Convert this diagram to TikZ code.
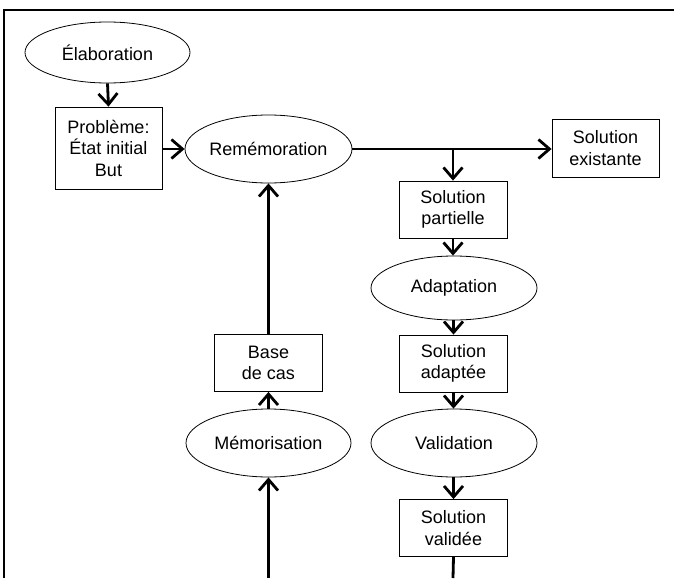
\documentclass[tikz,border=0pt]{standalone}
\usepackage{fontspec}
\setmainfont{Liberation Sans}
\usetikzlibrary{shapes.geometric,arrows.meta}
\begin{document}
\begin{tikzpicture}[x=1pt,y=-1pt,
  every node/.style={font=\fontsize{18}{21.5}\selectfont, align=center, inner sep=0pt},
  ell/.style={draw, line width=0.8pt, ellipse, minimum width=#1},
  ell/.default=166pt,
  boxn/.style={draw, line width=0.8pt, rectangle, minimum width=108pt, minimum height=57pt},
  conn/.style={line width=2.8pt, -{Straight Barb[length=11pt,width=19pt]}},
  plain/.style={line width=2.8pt}]
\useasboundingbox (0,0) rectangle (674,578);
% frame
\draw[line width=2pt] (4,578) -- (4,10) -- (674,10);
% nodes
\node[ell=165pt, minimum height=61pt] (elab) at (107.5,52.5) {Élaboration};
\node[boxn, minimum width=107pt, minimum height=82pt] (prob) at (108.5,148) {Problème:\\État initial\\But};
\node[ell=167pt, minimum height=68pt] (rem) at (268.5,149) {Remémoration};
\node[boxn, minimum width=107pt, minimum height=58pt] (exist) at (605.5,148) {Solution\\existante};
\node[boxn] (part) at (453,209.5) {Solution\\partielle};
\node[ell=166pt, minimum height=64pt] (adap) at (454,288) {Adaptation};
\node[boxn] (adapt) at (453.5,363.5) {Solution\\adaptée};
\node[ell=166pt, minimum height=68pt] (valid) at (454,443) {Validation};
\node[boxn] (valide) at (453.5,528) {Solution\\validée};
\node[boxn] (base) at (268.5,363) {Base\\de cas};
\node[ell=165pt, minimum height=68pt] (memo) at (268.5,443) {Mémorisation};
% coordinates
\coordinate (br) at (453,149);
\coordinate (bm) at (268.5,578);
\coordinate (bv) at (453,578);
% connectors
\draw[conn] (elab.south) -- (prob.north);
\draw[conn] (prob.east |- rem.west) -- (rem.west);
\draw[conn] (rem.east) -- (exist.west |- rem.east);
\draw[conn] (br) -- (br |- part.north);
\draw[conn] (part.south) -- (part.south |- adap.north);
\draw[conn] (adap.south -| adapt.north) -- (adapt.north);
\draw[conn] (adapt.south) -- (adapt.south |- valid.north);
\draw[conn] (valid.south -| valide.north) -- (valide.north);
\draw[plain] (valide.south) -- (bv);
\draw[conn] (bm) -- (memo.south);
\draw[conn] (memo.north) -- (base.south);
\draw[conn] (base.north) -- (rem.south);
\end{tikzpicture}
\end{document}
